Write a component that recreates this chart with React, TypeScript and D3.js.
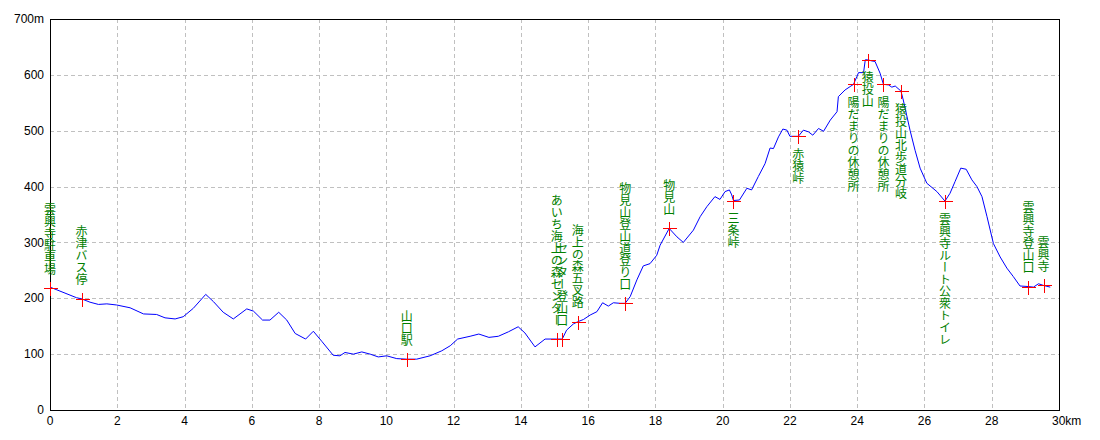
import React from 'react';
import * as d3 from 'd3';

// elevation profile (distance km / elevation m)
const distKm = [
  0, 0.79, 0.94, 1.19, 1.44, 1.69, 1.98, 2.38, 2.78, 3.17, 3.42, 3.72, 3.96, 4.26, 4.63, 4.86,
  5.15, 5.45, 5.65, 5.85, 6.05, 6.32, 6.54, 6.8, 7.04, 7.29, 7.6, 7.83, 8.08, 8.42, 8.62, 8.77,
  9.02, 9.27, 9.52, 9.76, 10.01, 10.31, 10.61, 10.9, 11.3, 11.65, 11.9, 12.12, 12.49, 12.75,
  13.05, 13.33, 13.63, 13.92, 14.12, 14.42, 14.72, 15.07, 15.23, 15.36, 15.56, 15.69, 15.86,
  16.06, 16.26, 16.43, 16.6, 16.75, 16.95, 17.1, 17.25, 17.45, 17.64, 17.84, 18.04, 18.14,
  18.41, 18.64, 18.83, 19.13, 19.33, 19.53, 19.77, 19.92, 20.07, 20.2, 20.27, 20.32, 20.5,
  20.72, 20.86, 21.06, 21.26, 21.41, 21.51, 21.66, 21.79, 21.91, 22.0, 22.25, 22.4, 22.55,
  22.68, 22.85, 23.0, 23.2, 23.4, 23.44, 23.64, 23.79, 23.89, 23.99, 24.04, 24.19, 24.24,
  24.31, 24.43, 24.53, 24.68, 24.78, 24.93, 25.03, 25.13, 25.3, 25.37, 25.47, 25.57, 25.72,
  25.87, 26.07, 26.37, 26.61, 26.76, 26.91, 27.08, 27.24, 27.41, 27.56, 27.71, 27.86, 28.05,
  28.25, 28.45, 28.64, 28.84, 29.09, 29.24, 29.39, 29.54, 29.74,
];
const elevM = [
  220, 201, 199, 193, 189, 190, 188, 183, 172, 171, 165, 163, 167, 182, 207, 194,
  175, 163, 172, 181, 177, 161, 161, 175, 161, 137, 127, 141, 123, 98, 97, 103,
  100, 104, 100, 95, 97, 92, 91, 91, 97, 106, 115, 127, 132, 136,
  130, 132, 140, 149, 138, 113, 127, 127, 127, 143, 154, 158, 162,
  170, 176, 192, 186, 192, 191, 191, 203, 233, 258, 262, 277, 295,
  325, 310, 300, 322, 346, 364, 382, 377, 391, 394, 385, 375, 376,
  397, 394, 418, 441, 469, 468, 489, 503, 501, 490, 490, 501, 498,
  492, 504, 499, 519, 534, 561, 573, 579, 583, 597, 604, 604, 627,
  627, 625, 624, 603, 583, 582, 578, 580, 571, 555, 528, 501, 465,
  433, 406, 391, 374, 388, 409, 433, 431, 412, 400, 382, 346, 298,
  274, 254, 239, 222, 221, 220, 226, 223, 220,
];

// waypoints
const wpName = [
  '雲興寺駐車場', '赤津バス停', '山口駅', 'あいち海上の森センター', 'センター登山口',
  '海上の森五叉路', '物見山登山道登り口', '物見山', '三条峠', '赤猿峠',
  '陽だまりの休憩所', '猿投山', '陽だまりの休憩所', '猿投山北歩道分岐',
  '雲興寺ルート公衆トイレ', '雲興寺登山口', '雲興寺',
];
const wpKm = [0, 0.94, 10.61, 15.07, 15.23, 15.69, 17.1, 18.41, 20.32, 22.25, 23.89, 24.31, 24.78, 25.3, 26.61, 29.09, 29.54];
const wpElev = [218, 199, 91, 127, 127, 158, 191, 325, 375, 490, 583, 627, 583, 571, 374, 221, 223];
const wpSide = ['up', 'up', 'up', 'up', 'up', 'up', 'up', 'up', 'down', 'down', 'down', 'down', 'down', 'down', 'down', 'up', 'up'];

const xTicks = [0, 2, 4, 6, 8, 10, 12, 14, 16, 18, 20, 22, 24, 26, 28, 30];
const yTicks = [0, 100, 200, 300, 400, 500, 600, 700];

const W = 1100;
const H = 440;

const App: React.FC = () => {
  const x = d3.scaleLinear().domain([0, 30]).range([50, 1059]);
  const y = d3.scaleLinear().domain([0, 700]).range([410, 19]);

  const line = d3.line<number>()
    .x((_, i) => x(distKm[i]))
    .y(d => y(d));

  const numFont = '"Liberation Sans", Arial, sans-serif';
  const jpFont = '"Noto Sans CJK JP", sans-serif';

  return (
    <div style={{ position: 'absolute', left: 0, top: 0, background: '#fff' }}>
      <style>{'body{margin:0;background:#fff}'}</style>
      <svg width={W} height={H} style={{ display: 'block' }}>
        <rect x={0} y={0} width={W} height={H} fill="#fff" />

        {/* grid */}
        <g stroke="#c0c0c0" strokeDasharray="4,3" shapeRendering="crispEdges">
          {xTicks.slice(1, -1).map(t => (
            <line key={'gx' + t} x1={Math.round(x(t)) + 0.5} x2={Math.round(x(t)) + 0.5} y1={y(700)} y2={y(0)} />
          ))}
          {yTicks.slice(1, -1).map(t => (
            <line key={'gy' + t} x1={x(0)} x2={x(30)} y1={Math.round(y(t)) + 0.5} y2={Math.round(y(t)) + 0.5} />
          ))}
        </g>

        {/* frame */}
        <rect x={x(0) + 0.5} y={y(700) + 0.5} width={x(30) - x(0)} height={y(0) - y(700)}
          fill="none" stroke="#000" strokeWidth={1} shapeRendering="crispEdges" />

        {/* y labels */}
        <g fontFamily={numFont} fontSize={12} fill="#000" textAnchor="end">
          {yTicks.map(t => (
            <text key={'yl' + t} x={44} y={y(t)} dy="0.35em">{t === 700 ? '700m' : t}</text>
          ))}
        </g>
        {/* x labels */}
        <g fontFamily={numFont} fontSize={12} fill="#000">
          {xTicks.map(t => (
            <text key={'xl' + t} x={t === 30 ? x(t) - 7 : x(t)} y={425}
              textAnchor={t === 30 ? 'start' : 'middle'}>{t === 30 ? '30km' : t}</text>
          ))}
        </g>

        {/* profile */}
        <path d={line(elevM) || ''} fill="none" stroke="#0000ff" strokeWidth={1} />

        {/* waypoint markers */}
        <g stroke="#ff0000" strokeWidth={1} shapeRendering="crispEdges">
          {wpKm.map((k, i) => {
            const cx = Math.round(x(k)) + 0.5;
            const cy = Math.round(y(wpElev[i])) + 0.5;
            return (
              <g key={'m' + i}>
                <line x1={cx - 7} x2={cx + 7} y1={cy} y2={cy} />
                <line x1={cx} x2={cx} y1={cy - 7} y2={cy + 7} />
              </g>
            );
          })}
        </g>

        {/* waypoint labels */}
        <g fontFamily={jpFont} fontSize={12} fill="#008000">
          {wpKm.map((k, i) => {
            const cx = x(k);
            const cy = y(wpElev[i]);
            const up = wpSide[i] === 'up';
            return (
              <text key={'l' + i} x={cx} y={up ? cy - 13 : cy + 12}
                style={{ writingMode: 'vertical-rl' as any }}
                textAnchor={up ? 'end' : 'start'}>{wpName[i]}</text>
            );
          })}
        </g>
      </svg>
    </div>
  );
};

export default App;
